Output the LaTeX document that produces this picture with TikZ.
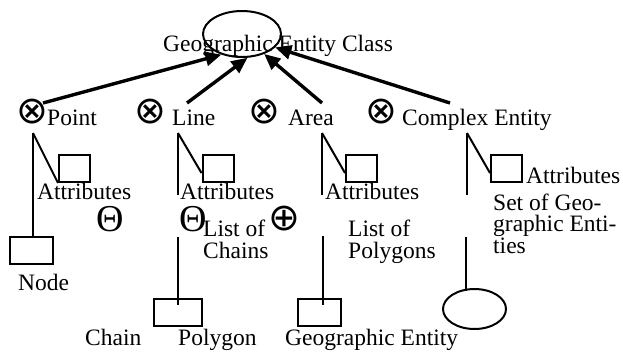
\documentclass[tikz,border=0pt]{standalone}
\usepackage{fontspec}
\setmainfont{Liberation Serif}
\newfontfamily\symfont{DejaVu Sans}
\usetikzlibrary{arrows.meta,shapes.geometric}

\begin{document}
\begin{tikzpicture}[x=1pt,y=-1pt,
  lbl/.style={font=\fontsize{23.5}{21.5}\selectfont, inner sep=0pt, anchor=base west},
  para/.style={lbl, align=left},
  opsym/.style={font=\symfont\fontsize{38}{38}\selectfont, inner sep=0pt},
  thetasym/.style={font=\fontsize{38}{38}\selectfont, inner sep=0pt, anchor=base},
  box/.style={draw, line width=2pt, inner sep=0pt, minimum width=#1, minimum height=27pt},
  box/.default=31pt,
  oval/.style={draw, ellipse, line width=2pt, inner sep=0pt},
  isa/.style={line width=3.4pt, -{Triangle[length=16pt,width=14pt]}},
  stem/.style={line width=2.7pt},
  slant/.style={line width=2pt}
]
\useasboundingbox (0,0) rectangle (623,351);

% class at the top
\node[oval, minimum width=78pt, minimum height=46pt] (gec) at (242,34) {};
\node[lbl] (gectxt) at (163,51) {Geographic Entity Class};

% the four kinds of entity
\node[opsym] (opoint) at (32,111.5) {⊗};
\node[lbl] (tpoint) at (47,125.5) {Point};
\node[opsym] (oline) at (150,111.5) {⊗};
\node[lbl] (tline) at (172,125.5) {Line};
\node[opsym] (oarea) at (264,111.5) {⊗};
\node[lbl] (tarea) at (288,125.5) {Area};
\node[opsym] (ocplx) at (381,111.5) {⊗};
\node[lbl] (tcplx) at (402,125.5) {Complex Entity};

\coordinate (apoint) at (43,103);
\coordinate (aline) at (187,103);
\coordinate (aarea) at (322,103);
\coordinate (acplx) at (450,103);

\draw[isa] (apoint) -- (gec.225);
\draw[isa] (aline) -- (gec.283);
\draw[isa] (aarea) -- (gec.318);
\draw[isa] (acplx) -- (gec.338);

% attribute boxes
\node[box] (pattr) at (74.5,168.5) {};
\node[box] (lattr) at (218,168.5) {};
\node[box] (aattr) at (361.5,168.5) {};
\node[box] (cattr) at (506.5,168.5) {};

\node[lbl] (tpattr) at (37,199.5) {Attributes};
\node[lbl] (tlattr) at (180,199.5) {Attributes};
\node[lbl] (taattr) at (325,199.5) {Attributes};
\node[lbl] (tcattr) at (526,183) {Attributes};

% Point branch
\coordinate (ptop) at (33,133);
\node[box=43pt] (nodebox) at (31.5,250.5) {};
\node[lbl] (tnode) at (18,290) {Node};
\draw[stem] (ptop) -- (ptop |- nodebox.north);
\draw[slant] (ptop) -- (pattr.south west);
\node[thetasym] (thpoint) at (110,231) {Θ};

% Line branch
\coordinate (ltop) at (178,133);
\coordinate (lend) at (178,195);
\coordinate (lmid) at (178,237);
\node[box=48pt] (polybox) at (178,312.5) {};
\draw[stem] (ltop) -- (lend);
\draw[slant] (ltop) -- ([yshift=-4.5pt]lattr.west);
\draw[stem] (lmid) -- ([yshift=-7pt]lmid |- polybox.north);
\node[thetasym] (thline) at (193,231) {Θ};
\node[para] (tchains) at (203,258) {List of\\Chains};
\node[opsym] (oplus) at (284.5,219) {⊕};

% Area branch
\coordinate (atop) at (322,133);
\coordinate (aend) at (322,195);
\coordinate (amid) at (323,236);
\node[box=43pt] (geobox) at (319.5,312.5) {};
\draw[stem] (atop) -- (aend);
\draw[slant] (atop) -- ([yshift=-4.5pt]aattr.west);
\draw[stem] (amid) -- ([yshift=-7pt]amid |- geobox.north);
\node[para] (tpolys) at (348,258) {List of\\Polygons};

% Complex branch
\coordinate (ctop) at (467,133);
\coordinate (cend) at (467,195);
\coordinate (cmid) at (466,237);
\node[oval, minimum width=63pt, minimum height=40pt] (cset) at (474.5,309) {};
\draw[stem] (ctop) -- (cend);
\draw[slant] (ctop) -- ([yshift=-4.5pt]cattr.west);
\draw[stem] (cmid) -- ([yshift=-3pt]cmid |- cset.north);
\node[para] (tset) at (493,253) {Set of Geo-\\graphic Enti-\\ties};

% bottom labels
\node[lbl] (tchain) at (85,345) {Chain};
\node[lbl] (tpolygon) at (178,345) {Polygon};
\node[lbl] (tgeo) at (285,345) {Geographic Entity};
\end{tikzpicture}
\end{document}
